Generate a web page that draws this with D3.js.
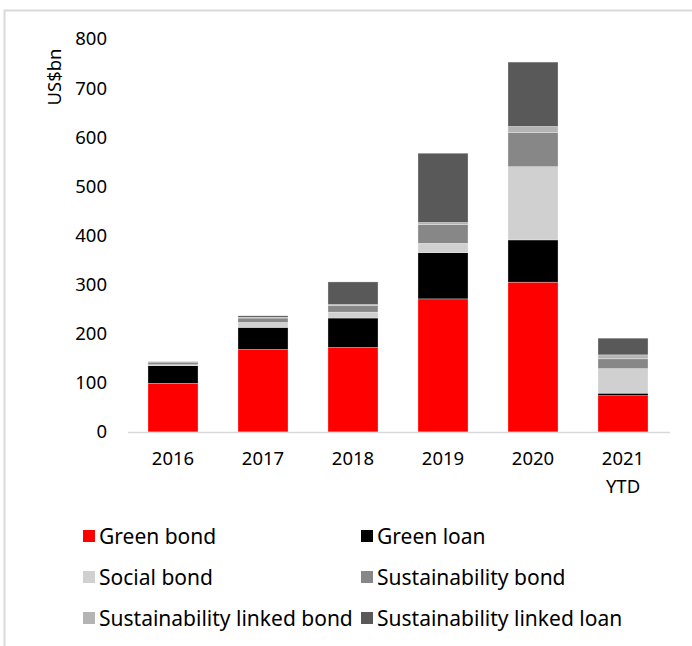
<!DOCTYPE html>
<html><head><meta charset="utf-8">
<script src="https://cdn.jsdelivr.net/npm/d3@7"></script>
<style>body{margin:0;background:#fff}svg{display:block}</style>
</head><body>
<script>
const categories = ["2016","2017","2018","2019","2020","2021 YTD"];
const seriesNames = ["Green bond","Green loan","Social bond","Sustainability bond","Sustainability linked bond","Sustainability linked loan"];
const greenBond = [99, 168, 172, 271, 305, 74];
const greenLoan = [36, 45, 60, 94, 86, 5];
const socialBond = [2, 10, 12, 19, 149, 50];
const sustainabilityBond = [5, 9, 14, 38, 70, 20];
const sustainabilityLinkedBond = [0, 1.5, 1.5, 4.5, 12, 8];
const sustainabilityLinkedLoan = [1, 3, 46, 141, 131, 34];
const yTicks = [0,100,200,300,400,500,600,700,800];
const colors = ["#ff0000","#000000","#d0d0d0","#878787","#b4b4b4","#595959"];

const seriesValues = [greenBond, greenLoan, socialBond, sustainabilityBond, sustainabilityLinkedBond, sustainabilityLinkedLoan];
const rows = categories.map((c,i)=>{const r={cat:c}; seriesNames.forEach((s,j)=>r[s]=seriesValues[j][i]); return r;});

const W=692,H=646;
const svg=d3.select("body").append("svg").attr("width",W).attr("height",H);
svg.append("rect").attr("x",4.5).attr("y",10.5).attr("width",W+20).attr("height",H+20)
  .attr("fill","none").attr("stroke","#d9d9d9").attr("stroke-width",2);

const font="'Noto Sans', sans-serif";
const x=d3.scaleBand().domain(categories).range([128,668]).paddingInner(0.444).paddingOuter(0.222);
const y=d3.scaleLinear().domain([0,800]).range([432,39]);

const stack=d3.stack().keys(seriesNames)(rows);
const g=svg.append("g");
g.selectAll("g.s").data(stack).join("g").attr("fill",(d,i)=>colors[i])
  .selectAll("rect").data(d=>d).join("rect")
  .attr("x",d=>x(d.data.cat)).attr("width",x.bandwidth())
  .attr("y",d=>y(d[1])).attr("height",d=>Math.max(0,y(d[0])-y(d[1])))
  .attr("stroke","#ffffff").attr("stroke-opacity",0.5).attr("stroke-width",0.6);

svg.append("line").attr("x1",128).attr("x2",670).attr("y1",y(0)+0.5).attr("y2",y(0)+0.5)
  .attr("stroke","#d9d9d9").attr("stroke-width",1.5);

const ya=svg.append("g").attr("transform","translate(128,0)")
  .call(d3.axisLeft(y).tickValues(yTicks).tickSize(0).tickPadding(21));
ya.select(".domain").remove();
ya.selectAll("text").attr("font-family",font).attr("font-size",18.5).attr("fill","#000");

const xa=svg.append("g").attr("transform",`translate(0,${y(0)})`)
  .call(d3.axisBottom(x).tickSize(0).tickPadding(20).tickFormat(()=>""));
xa.select(".domain").remove();
xa.selectAll(".tick").each(function(d){
  const parts=d.split(" ");
  const t=d3.select(this).select("text").attr("font-family",font).attr("font-size",18.5).attr("fill","#000");
  parts.forEach((p,i)=>t.append("tspan").attr("x",0).attr("dy",i===0?"0.71em":"1.5em").text(p));
});

svg.append("text").attr("transform","translate(53,77) rotate(-90)").attr("text-anchor","middle")
  .attr("dominant-baseline","central").attr("font-family",font).attr("font-size",18.5).text("US$bn");

const lg=svg.append("g");
seriesNames.forEach((s,i)=>{
  const col=i%2,row=Math.floor(i/2);
  const lx=col===0?83:361, ly=536+row*41;
  lg.append("rect").attr("x",lx).attr("y",ly-6).attr("width",12).attr("height",12).attr("fill",colors[i]);
  lg.append("text").attr("x",lx+16).attr("y",ly).attr("dominant-baseline","central")
    .attr("font-family",font).attr("font-size",21).attr("fill","#000").text(s);
});
</script>
</body></html>
